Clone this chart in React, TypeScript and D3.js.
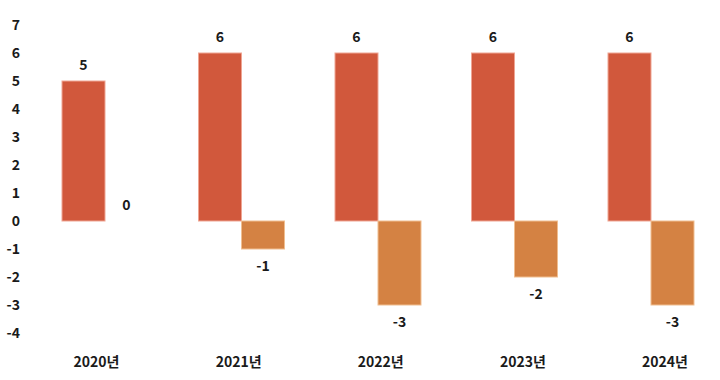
import React from "react";
import * as d3 from "d3";

const categories = ["2020년", "2021년", "2022년", "2023년", "2024년"];
const seriesA = [5, 6, 6, 6, 6];
const seriesB = [0, -1, -3, -2, -3];
const yTicks = [7, 6, 5, 4, 3, 2, 1, 0, -1, -2, -3, -4];

const W = 720;
const H = 380;
const colorA = "#D1583C";
const colorB = "#D48243";
const strokeA = "#EFA593";
const strokeB = "#F0BE90";
const font = "'Noto Sans CJK KR', 'Noto Sans', sans-serif";

export default function App() {
  const x = d3
    .scaleBand<string>()
    .domain(categories)
    .range([36.75, 719.25])
    .paddingInner(0.37)
    .paddingOuter(0.185);
  const inner = d3.scaleBand<number>().domain([0, 1]).range([0, x.bandwidth()]);
  const y = d3.scaleLinear().domain([-4, 7]).range([333, 25]);
  const labelX = d3.scalePoint<string>().domain(categories).range([96.5, 665]);

  const series = [
    { values: seriesA, fill: colorA, stroke: strokeA },
    { values: seriesB, fill: colorB, stroke: strokeB },
  ];

  return (
    <svg
      width={W}
      height={H}
      style={{ position: "absolute", left: 0, top: 0, display: "block", background: "#fff" }}
      fontFamily={font}
    >
      {yTicks.map((t) => (
        <text
          key={t}
          x={20}
          y={y(t)}
          dy="0.35em"
          textAnchor="end"
          fontSize={14}
          fontWeight={700}
          fill="#1a1a1a"
        >
          {t}
        </text>
      ))}
      {series.map((s, si) =>
        categories.map((c, i) => {
          const v = s.values[i];
          const bx = (x(c) as number) + (inner(si) as number);
          const y0 = y(Math.max(0, v));
          const y1 = y(Math.min(0, v));
          const h = y1 - y0;
          const cx = bx + inner.bandwidth() / 2;
          const ly = v >= 0 ? y(v) - 16 : y(v) + 17;
          return (
            <g key={`${si}-${c}`}>
              {h > 0 && (
                <rect
                  x={bx}
                  y={y0}
                  width={inner.bandwidth()}
                  height={h}
                  fill={s.fill}
                  stroke={s.stroke}
                  strokeWidth={1}
                />
              )}
              <text
                x={cx}
                y={ly}
                dy="0.35em"
                textAnchor="middle"
                fontSize={14}
                fontWeight={700}
                fill="#1a1a1a"
              >
                {v}
              </text>
            </g>
          );
        })
      )}
      {categories.map((c) => (
        <text
          key={c}
          x={labelX(c)}
          y={362}
          dy="0.35em"
          textAnchor="middle"
          fontSize={14}
          fontWeight={700}
          fill="#1a1a1a"
        >
          {c}
        </text>
      ))}
    </svg>
  );
}
